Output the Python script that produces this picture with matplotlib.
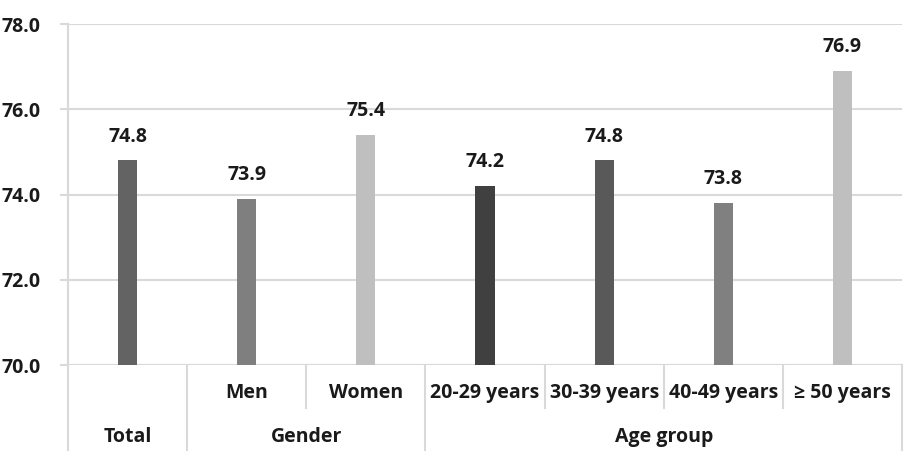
import matplotlib.pyplot as plt
import numpy as np

# values
sub_labels = ["", "Men", "Women", "20-29 years", "30-39 years", "40-49 years", "\u2265 50 years"]
values = [74.8, 73.9, 75.4, 74.2, 74.8, 73.8, 76.9]
bar_colors = ["#636363", "#7f7f7f", "#bfbfbf", "#404040", "#595959", "#808080", "#bfbfbf"]
groups = ["Total", "Gender", "Age group"]
group_spans = [(0, 0), (1, 2), (3, 6)]
yticks = [70.0, 72.0, 74.0, 76.0, 78.0]

plt.rcParams['font.family'] = ['Open Sans', 'DejaVu Sans']
grid_c = "#d9d9d9"
txt_c = "#1a1a1a"
fs = 14

fig = plt.figure(figsize=(9.09, 4.69), dpi=100)
ax = fig.add_axes([68/909, 1 - 365/469, (902-68)/909, (365-24)/469])

x = np.arange(len(values))
base = yticks[0]
ax.bar(x, np.array(values) - base, bottom=base, width=0.16, color=bar_colors, zorder=3)

for xi, v in zip(x, values):
    ax.annotate(f"{v:.1f}", (xi, v), xytext=(0, 10), textcoords="offset points",
                ha="center", va="bottom", fontsize=fs, fontweight="bold", color=txt_c)

ax.set_xlim(-0.5, len(values) - 0.5)
ax.set_ylim(yticks[0], yticks[-1])
ax.set_yticks(yticks)
ax.set_yticklabels([f"{t:.1f}" for t in yticks], fontsize=fs, fontweight="bold", color=txt_c)
ax.tick_params(axis="y", length=5.8, color=grid_c, width=1.5, pad=14)
ax.set_xticks([])
ax.yaxis.grid(True, color=grid_c, linewidth=1.5, zorder=0)
for s in ["top", "right", "bottom"]:
    ax.spines[s].set_visible(False)
ax.spines["left"].set_color(grid_c)
ax.spines["left"].set_linewidth(1.5)
ax.axhline(base, color=grid_c, linewidth=1.5, zorder=2)

# multi-level category table below the axis
tr = ax.get_xaxis_transform()
row1_y, row1_line = -0.082, -0.126
row2_y, row2_line = -0.211, -0.249

for xi, lab in zip(x, sub_labels):
    if lab:
        ax.text(xi, row1_y, lab, transform=tr, ha="center", va="center",
                fontsize=fs, fontweight="bold", color=txt_c)

group_edges = set()
for (a, b) in group_spans:
    group_edges.add(a - 0.5)
    group_edges.add(b + 0.5)
for (a, b), g in zip(group_spans, groups):
    ax.text((a + b) / 2, row2_y, g, transform=tr, ha="center", va="center",
            fontsize=fs, fontweight="bold", color=txt_c)

for k in range(len(values) + 1):
    xe = k - 0.5
    y_end = row2_line if xe in group_edges else row1_line
    y_start = 1.0 if k == 0 else 0.0
    ax.plot([xe, xe], [y_start, y_end], transform=tr, color=grid_c,
            linewidth=1.5, clip_on=False, zorder=1)

fig.savefig("out.png", dpi=100)
